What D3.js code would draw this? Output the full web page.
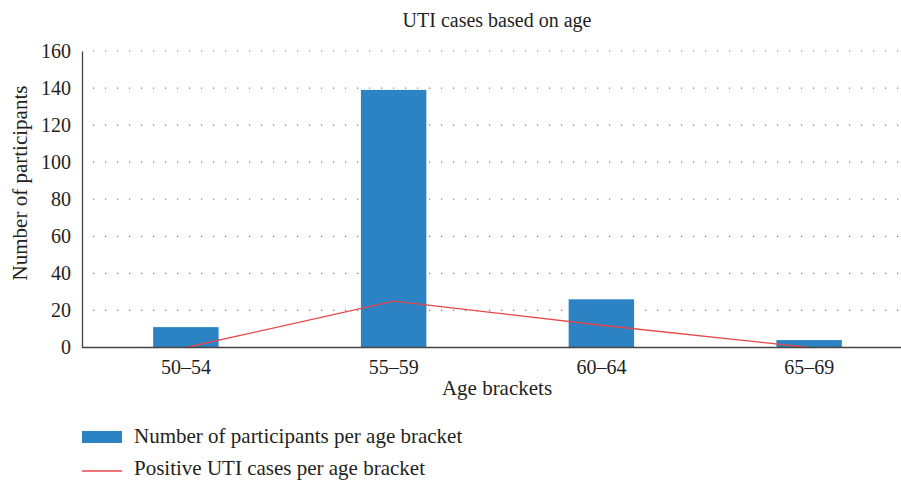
<!DOCTYPE html>
<html lang="en">
<head>
  <meta charset="UTF-8">
  <title>UTI cases based on age</title>
  <script src="https://d3js.org/d3.v7.min.js"></script>
  <style>
    body { margin: 0; background: #fff; }
    svg { display: block; }
    svg text { font-family: 'Liberation Serif', 'DejaVu Serif', serif; }
  </style>
</head>
<body>
  <svg width="901" height="481"></svg>
  <script>
    const brackets = ["50\u201354", "55\u201359", "60\u201364", "65\u201369"];
    const participants = [11, 139, 26, 4];
    const positiveCases = [0, 25, 12, 0];
    const yTicks = [0, 20, 40, 60, 80, 100, 120, 140, 160];

    const svg = d3.select("svg");
    const textColor = "#231f20";
    const serif = "'Liberation Serif', serif";

    const x = d3.scaleBand().domain(brackets).range([82, 913]).paddingInner(0.685).paddingOuter(0.3425);
    const y = d3.scaleLinear().domain([0, 160]).range([347.5, 51]);

    // dotted grid
    svg.append("g")
      .selectAll("line")
      .data(yTicks.filter(d => d > 0))
      .join("line")
      .attr("x1", 82).attr("x2", 901)
      .attr("y1", d => y(d)).attr("y2", d => y(d))
      .attr("stroke", "#777")
      .attr("stroke-width", 1.2)
      .attr("stroke-dasharray", "1.2 10.8")
      .attr("stroke-dashoffset", -11);

    // bars
    svg.append("g")
      .selectAll("rect")
      .data(brackets)
      .join("rect")
      .attr("x", d => x(d))
      .attr("width", x.bandwidth())
      .attr("y", (d, i) => y(participants[i]))
      .attr("height", (d, i) => y(0) - y(participants[i]))
      .attr("fill", "#2b83c3");

    // line
    const line = d3.line()
      .x((d, i) => x(brackets[i]) + x.bandwidth() / 2)
      .y(d => y(d));
    svg.append("path")
      .datum(positiveCases)
      .attr("d", line)
      .attr("fill", "none")
      .attr("stroke", "#e8474a")
      .attr("stroke-width", 1.3);

    // y axis
    const yAxis = svg.append("g")
      .attr("transform", "translate(82,0)")
      .call(d3.axisLeft(y).tickValues(yTicks).tickSize(0).tickPadding(11))
      .attr("font-family", serif)
      .attr("font-size", 20);
    yAxis.select(".domain").attr("stroke", "#444").attr("stroke-width", 1.3);
    yAxis.selectAll("text").attr("fill", textColor);

    // x axis
    const xAxis = svg.append("g")
      .attr("transform", `translate(0,${y(0)})`)
      .call(d3.axisBottom(x).tickSize(0).tickPadding(12))
      .attr("font-family", serif)
      .attr("font-size", 20);
    xAxis.select(".domain").attr("d", "M82,0H901").attr("stroke", "#444").attr("stroke-width", 1.3);
    xAxis.selectAll("text").attr("fill", textColor);

    // title and axis labels
    svg.append("text")
      .attr("x", 497).attr("y", 27)
      .attr("text-anchor", "middle")
      .attr("font-size", 20)
      .attr("fill", textColor)
      .text("UTI cases based on age");

    svg.append("text")
      .attr("x", 497).attr("y", 395)
      .attr("text-anchor", "middle")
      .attr("font-size", 21)
      .attr("fill", textColor)
      .text("Age brackets");

    svg.append("text")
      .attr("transform", "translate(27,183) rotate(-90)")
      .attr("text-anchor", "middle")
      .attr("font-size", 21)
      .attr("fill", textColor)
      .text("Number of participants");

    // legend
    const legend = svg.append("g");
    legend.append("rect")
      .attr("x", 82).attr("y", 431)
      .attr("width", 40).attr("height", 12)
      .attr("fill", "#2b83c3");
    legend.append("text")
      .attr("x", 134).attr("y", 443)
      .attr("font-size", 21)
      .attr("fill", textColor)
      .text("Number of participants per age bracket");
    legend.append("line")
      .attr("x1", 82).attr("x2", 122)
      .attr("y1", 471).attr("y2", 471)
      .attr("stroke", "#e8474a")
      .attr("stroke-width", 1.3);
    legend.append("text")
      .attr("x", 134).attr("y", 475)
      .attr("font-size", 21)
      .attr("fill", textColor)
      .text("Positive UTI cases per age bracket");
  </script>
</body>
</html>
